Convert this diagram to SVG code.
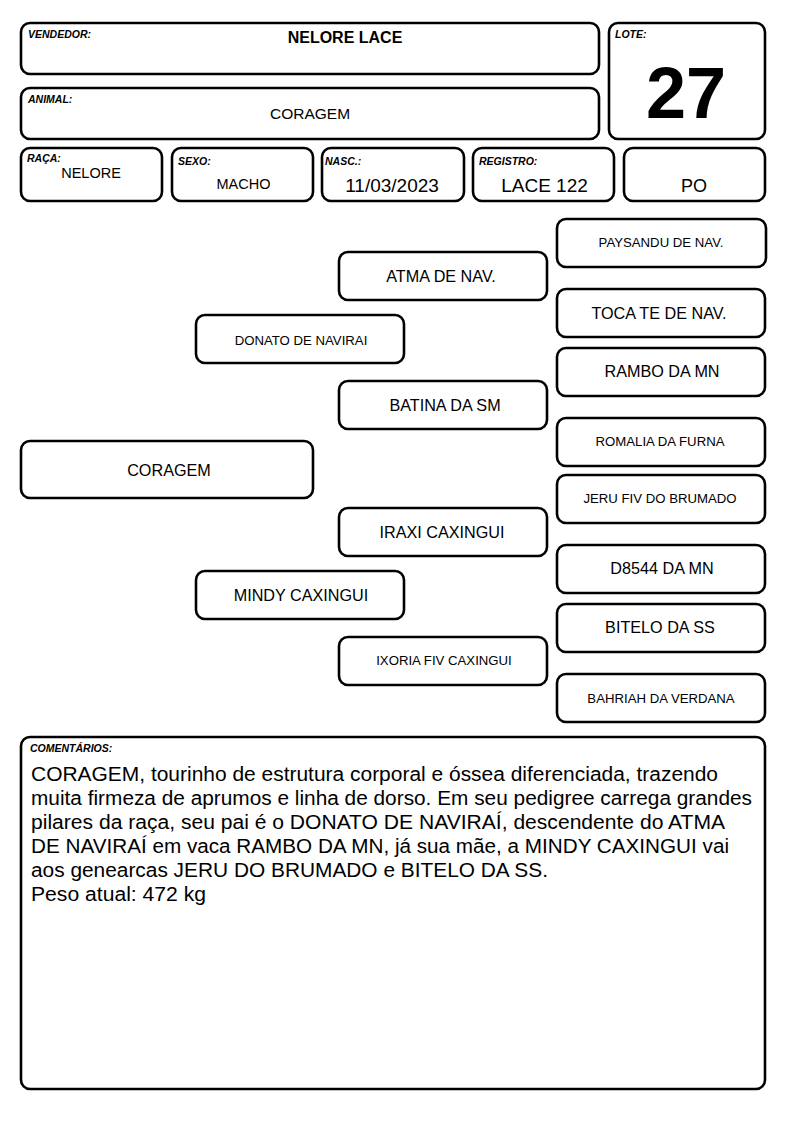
<svg xmlns="http://www.w3.org/2000/svg" width="794" height="1123" viewBox="0 0 794 1123">
<style>
.b{fill:#fff;stroke:#000;stroke-width:2.6}
.t{font-family:"Liberation Sans",Arial,sans-serif;fill:#000}
.lab{font-family:"Liberation Sans",Arial,sans-serif;font-size:10.5px;font-weight:bold;font-style:italic;fill:#000}
.c{text-anchor:middle}
.n15{font-size:16.2px}
.n12{font-size:13.2px}
</style>
<rect width="794" height="1123" fill="#fff"/>
<g id="vendedor"><rect class="b" x="21" y="23" width="578" height="51" rx="9"/><text class="lab" x="28" y="38">VENDEDOR:</text><text class="t c" x="345" y="43" font-size="16" font-weight="bold">NELORE LACE</text></g>
<g id="animal"><rect class="b" x="21" y="88" width="578" height="51" rx="9"/><text class="lab" x="28" y="103">ANIMAL:</text><text class="t c" x="310" y="119" font-size="15.5">CORAGEM</text></g>
<g id="lote"><rect class="b" x="609" y="23" width="156" height="116" rx="9"/><text class="lab" x="615" y="38">LOTE:</text><text class="t c" x="686" y="118" font-size="72" font-weight="bold">27</text></g>
<g id="raca"><rect class="b" x="21" y="148" width="141" height="53" rx="9"/><text class="lab" x="27" y="162">RAÇA:</text><text class="t c" x="91" y="178" font-size="14.5">NELORE</text></g>
<g id="sexo"><rect class="b" x="172" y="148" width="141" height="53" rx="9"/><text class="lab" x="178" y="165">SEXO:</text><text class="t c" x="243.5" y="189" font-size="14.5">MACHO</text></g>
<g id="nasc"><rect class="b" x="322" y="148" width="142" height="53" rx="9"/><text class="lab" x="325" y="165">NASC.:</text><text class="t c" x="392" y="192" font-size="19">11/03/2023</text></g>
<g id="registro"><rect class="b" x="473" y="148" width="141" height="53" rx="9"/><text class="lab" x="479" y="165">REGISTRO:</text><text class="t c" x="544.5" y="192" font-size="19">LACE 122</text></g>
<g id="po"><rect class="b" x="624" y="148" width="141" height="53" rx="9"/><text class="t c" x="694" y="192" font-size="18">PO</text></g>
<g id="connectors"></g>
<g id="n-coragem"><rect class="b" x="21" y="441" width="292" height="57" rx="9"/><text class="t c n15" x="169" y="476">CORAGEM</text></g>
<g id="n-donato"><rect class="b" x="196" y="315" width="208" height="48" rx="9"/><text class="t c n12" x="301" y="345">DONATO DE NAVIRAI</text></g>
<g id="n-mindy"><rect class="b" x="196" y="571" width="208" height="48" rx="9"/><text class="t c n15" x="301" y="601">MINDY CAXINGUI</text></g>
<g id="n-atma"><rect class="b" x="339" y="252" width="208" height="48" rx="9"/><text class="t c n15" x="441" y="282">ATMA DE NAV.</text></g>
<g id="n-batina"><rect class="b" x="339" y="381" width="208" height="48" rx="9"/><text class="t c n15" x="445" y="411">BATINA DA SM</text></g>
<g id="n-iraxi"><rect class="b" x="339" y="508" width="208" height="48" rx="9"/><text class="t c n15" x="442" y="538">IRAXI CAXINGUI</text></g>
<g id="n-ixoria"><rect class="b" x="339" y="637" width="208" height="48" rx="9"/><text class="t c n12" x="444" y="665">IXORIA FIV CAXINGUI</text></g>
<g id="n-paysandu"><rect class="b" x="557" y="219" width="209" height="48" rx="9"/><text class="t c n12" x="661" y="247">PAYSANDU DE NAV.</text></g>
<g id="n-tocate"><rect class="b" x="557" y="289" width="208" height="48" rx="9"/><text class="t c n15" x="659" y="319">TOCA TE DE NAV.</text></g>
<g id="n-rambo"><rect class="b" x="557" y="348" width="208" height="48" rx="9"/><text class="t c n15" x="662" y="377">RAMBO DA MN</text></g>
<g id="n-romalia"><rect class="b" x="557" y="418" width="208" height="48" rx="9"/><text class="t c n12" x="660" y="446">ROMALIA DA FURNA</text></g>
<g id="n-jeru"><rect class="b" x="557" y="475" width="208" height="48" rx="9"/><text class="t c n12" x="660" y="503">JERU FIV DO BRUMADO</text></g>
<g id="n-d8544"><rect class="b" x="557" y="545" width="208" height="48" rx="9"/><text class="t c n15" x="662" y="574">D8544 DA MN</text></g>
<g id="n-bitelo"><rect class="b" x="557" y="604" width="208" height="48" rx="9"/><text class="t c n15" x="660" y="633">BITELO DA SS</text></g>
<g id="n-bahriah"><rect class="b" x="557" y="674" width="208" height="48" rx="9"/><text class="t c n12" x="661" y="703">BAHRIAH DA VERDANA</text></g>
<g id="comentarios"><rect class="b" x="21" y="737" width="744" height="352" rx="9"/><text class="lab" x="30" y="752" font-size="10">COMENTÁRIOS:</text>
<g class="t" font-size="20">
<text x="31" y="781" textLength="687" lengthAdjust="spacingAndGlyphs">CORAGEM, tourinho de estrutura corporal e óssea diferenciada, trazendo</text>
<text x="31" y="805" textLength="721" lengthAdjust="spacingAndGlyphs">muita firmeza de aprumos e linha de dorso. Em seu pedigree carrega grandes</text>
<text x="31" y="829" textLength="694" lengthAdjust="spacingAndGlyphs">pilares da raça, seu pai é o DONATO DE NAVIRAÍ, descendente do ATMA</text>
<text x="31" y="853" textLength="698" lengthAdjust="spacingAndGlyphs">DE NAVIRAÍ em vaca RAMBO DA MN, já sua mãe, a MINDY CAXINGUI vai</text>
<text x="31" y="877" textLength="517" lengthAdjust="spacingAndGlyphs">aos genearcas JERU DO BRUMADO e BITELO DA SS.</text>
<text x="31" y="901" textLength="175" lengthAdjust="spacingAndGlyphs">Peso atual: 472 kg</text>
</g></g>
</svg>
